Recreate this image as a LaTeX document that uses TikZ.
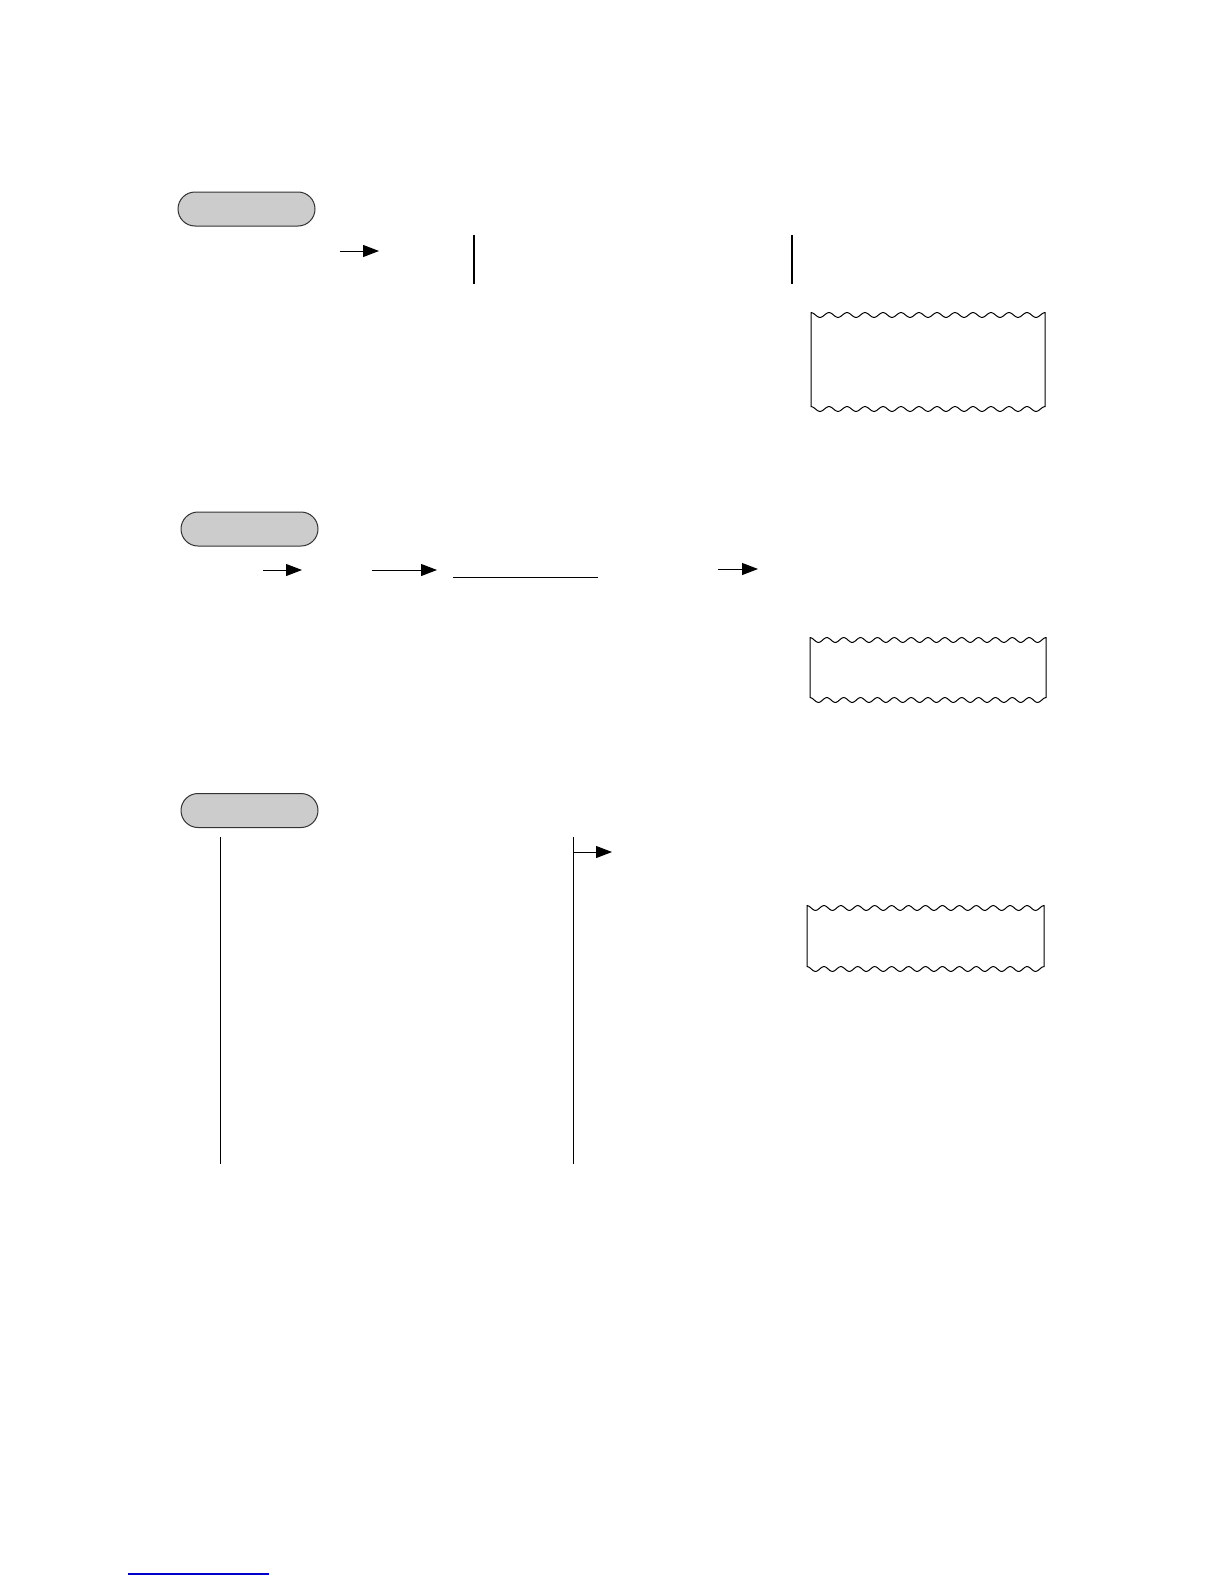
\documentclass[tikz,border=0pt]{standalone}
\usetikzlibrary{arrows.meta}
\tikzset{
    pill/.style={draw=black!80, fill=black!20, line width=0.5pt, minimum width=68.5pt,
        minimum height=17pt, rounded corners=8.5pt, inner sep=0pt},
    arr/.style={-{Triangle[length=8pt,width=6pt]}, line width=0.5pt},
    bar/.style={line width=1pt},
    rule/.style={line width=0.5pt},
}
% wavy slip: x1, y1, x2, y2, number of waves
\newcommand{\slip}[5]{%
    \draw[line width=0.5pt]
        plot[domain=#1:#3, samples=200] (\x, {#2-2.4*cos(360*#5/(#3-#1)*(\x-#1))})
        -- plot[domain=#3:#1, samples=200] (\x, {#4-2.4*cos(360*#5/(#3-#1)*(\x-#1))})
        -- cycle;
}

\begin{document}
\begin{tikzpicture}[x=0.5pt, y=-0.5pt]
    \useasboundingbox (0,0) rectangle (1224,1584);

    % step 1
    \node[pill] (p1) at (246.5,209) {};
    \coordinate (a1s) at (340,251);
    \coordinate (a1e) at (379,251);
    \coordinate (b1t) at (474,235);
    \coordinate (b1b) at (474,284);
    \coordinate (b2t) at (792,235);
    \coordinate (b2b) at (792,284);
    \draw[arr] (a1s) -- (a1e);
    \draw[bar] (b1t) -- (b1b);
    \draw[bar] (b2t) -- (b2b);
    \slip{811}{315}{1045}{409}{13}

    % step 2
    \node[pill] (p2) at (249.5,529) {};
    \coordinate (a2s) at (263,570);
    \coordinate (a2e) at (302,570);
    \coordinate (a3s) at (372,570);
    \coordinate (a3e) at (437,570);
    \coordinate (l2s) at (453,577);
    \coordinate (l2e) at (598,577);
    \coordinate (a4s) at (718,569);
    \coordinate (a4e) at (758,569);
    \draw[arr] (a2s) -- (a2e);
    \draw[arr] (a3s) -- (a3e);
    \draw[rule] (l2s) -- (l2e);
    \draw[arr] (a4s) -- (a4e);
    \slip{810}{640}{1046}{700}{14}

    % step 3
    \node[pill] (p3) at (249.5,810.5) {};
    \coordinate (v1t) at (220,837);
    \coordinate (v1b) at (220,1164);
    \coordinate (v2t) at (573,837);
    \coordinate (v2b) at (573,1164);
    \coordinate (a5s) at (573,852);
    \coordinate (a5e) at (612,852);
    \draw[rule] (v1t) -- (v1b);
    \draw[rule] (v2t) -- (v2b);
    \draw[arr] (a5s) -- (a5e);
    \slip{807}{908}{1044}{969}{14}

    % link underline
    \coordinate (ls) at (128,1574);
    \coordinate (le) at (269,1574);
    \draw[blue!80!black, line width=0.6pt] (ls) -- (le);
\end{tikzpicture}
\end{document}
